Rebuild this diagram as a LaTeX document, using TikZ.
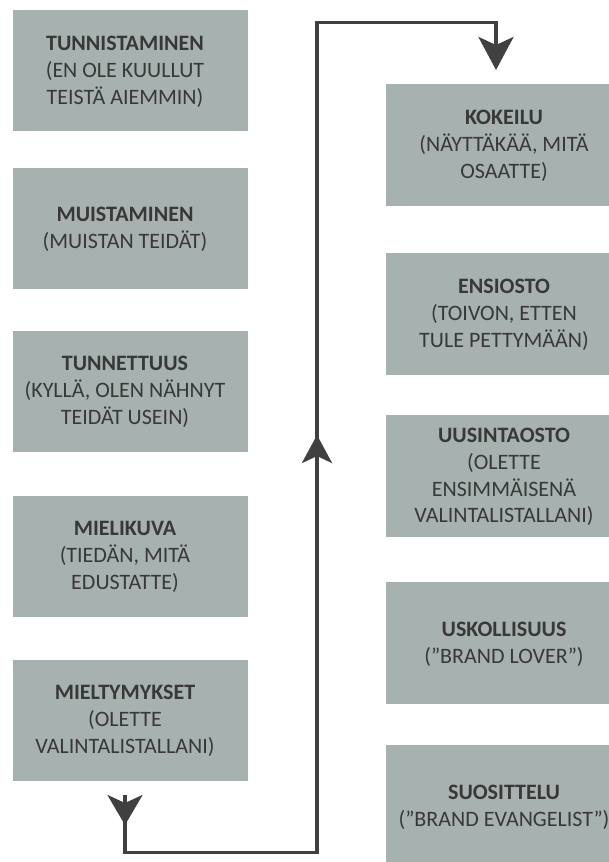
\documentclass[tikz,border=0pt]{standalone}
\usepackage{fontspec}
\setmainfont{Carlito}
\usetikzlibrary{arrows.meta,decorations.markings,calc}

\definecolor{boxfill}{HTML}{A7B1AF}
\definecolor{inkgray}{HTML}{383838}
\definecolor{linegray}{HTML}{404040}

\tikzset{
  stagebox/.style={rectangle, fill=boxfill, draw=none, inner sep=0pt,
    minimum width=235pt, anchor=north west},
  stagetext/.style={text=inkgray, align=center, inner sep=0pt,
    font=\fontsize{22}{26.7}\selectfont},
  loopline/.style={draw=linegray, line width=3.5pt, line join=miter},
  endtip/.tip={Stealth[length=33pt, width=35pt, inset=8pt]},
  starttip/.tip={Stealth[length=30pt, width=35pt, inset=8pt]},
  midtip/.tip={Stealth[length=28pt, width=30pt, inset=7pt]},
}

\begin{document}
\begin{tikzpicture}[x=1pt, y=-1pt]
  \useasboundingbox (0,0) rectangle (609,862);
  \fill[white] (0,0) rectangle (609,862);
  \clip (0,0) rectangle (609,862);

  % left column: awareness stages
  \node[stagebox, minimum height=121pt] (l1) at (13,10) {};
  \node[stagebox, minimum height=121pt] (l2) at (13,168) {};
  \node[stagebox, minimum height=121pt] (l3) at (13,331) {};
  \node[stagebox, minimum height=121pt] (l4) at (13,496) {};
  \node[stagebox, minimum height=121pt] (l5) at (13,660) {};

  \node[stagetext] (lt1) at (125,72) {\textbf{TUNNISTAMINEN}\\(EN OLE KUULLUT\\TEISTÄ AIEMMIN)};
  \node[stagetext] (lt2) at (125,229) {\textbf{MUISTAMINEN}\\(MUISTAN TEIDÄT)};
  \node[stagetext] (lt3) at (125,392) {\textbf{TUNNETTUUS}\\(KYLLÄ, OLEN NÄHNYT\\TEIDÄT USEIN)};
  \node[stagetext] (lt4) at (125,557) {\textbf{MIELIKUVA}\\(TIEDÄN, MITÄ\\EDUSTATTE)};
  \node[stagetext] (lt5) at (125,721) {\textbf{MIELTYMYKSET}\\(OLETTE\\VALINTALISTALLANI)};

  % right column: purchase and loyalty stages
  \node[stagebox, minimum height=122pt] (r1) at (386,84) {};
  \node[stagebox, minimum height=122pt] (r2) at (386,253) {};
  \node[stagebox, minimum height=122pt] (r3) at (386,415) {};
  \node[stagebox, minimum height=122pt] (r4) at (386,582) {};
  \node[stagebox, minimum height=122pt] (r5) at (386,745) {};

  \node[stagetext] (rt1) at (504,146) {\textbf{KOKEILU}\\(NÄYTTÄKÄÄ, MITÄ\\OSAATTE)};
  \node[stagetext] (rt2) at (504,315) {\textbf{ENSIOSTO}\\(TOIVON, ETTEN\\TULE PETTYMÄÄN)};
  \node[stagetext] (rt3) at (504,477) {\textbf{UUSINTAOSTO}\\(OLETTE\\ENSIMMÄISENÄ\\VALINTALISTALLANI)};
  \node[stagetext] (rt4) at (504,644) {\textbf{USKOLLISUUS}\\(”BRAND LOVER”)};
  \node[stagetext] (rt5) at (504,807) {\textbf{SUOSITTELU}\\(”BRAND EVANGELIST”)};

  % connector from the last left stage round to the first right stage
  \coordinate (loopstart) at (125,795);
  \coordinate (loopend) at (496,70);
  \draw[loopline, -endtip,
    postaction={decorate},
    decoration={markings,
      mark=at position 30pt with {\arrow{starttip}},
      mark=at position 667pt with {\arrow{midtip}}}]
    (loopstart) -- (125,852.5) -- (317,852.5) -- (317,22.5) -- (496,22.5) -- (loopend);
\end{tikzpicture}
\end{document}
